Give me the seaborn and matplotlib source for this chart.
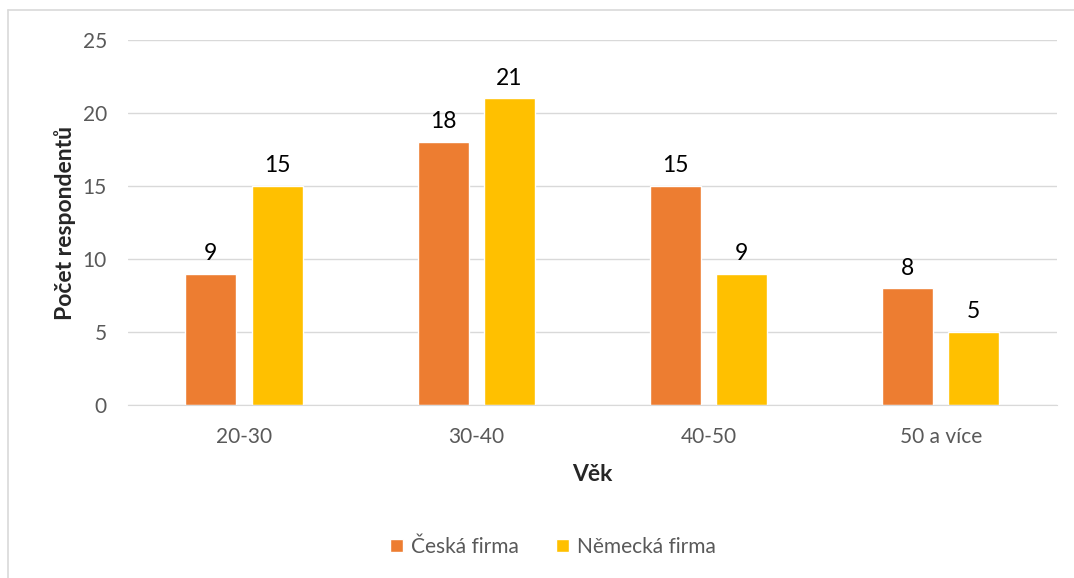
import matplotlib
matplotlib.use("Agg")
import matplotlib.pyplot as plt
import pandas as pd
import seaborn as sns

vek = ["20-30", "30-40", "40-50", "50 a více"]
ceska = [9, 18, 15, 8]
nemecka = [15, 21, 9, 5]
serie = ["Česká firma", "Německá firma"]

df = pd.DataFrame({
    "Věk": vek * 2,
    "Počet": ceska + nemecka,
    "Firma": [serie[0]] * len(vek) + [serie[1]] * len(vek),
})

sns.set_style("white")
plt.rcParams["font.family"] = ["Lato", "DejaVu Sans"]

fig = plt.figure(figsize=(10.74, 5.78), dpi=100)
ax = fig.add_axes([0.119, 0.299, 0.865, 0.632])

sns.barplot(data=df, x="Věk", y="Počet", hue="Firma", hue_order=serie,
            palette=["#ED7D31", "#FFC000"], width=0.57, gap=0.23,
            saturation=1, ax=ax, legend=True)

ax.set_ylim(0, 25)
ax.set_yticks(range(0, 26, 5))
ax.yaxis.grid(True, color="#D9D9D9", linewidth=1)
ax.set_axisbelow(True)
for s in ["top", "right", "left"]:
    ax.spines[s].set_visible(False)
ax.spines["bottom"].set_color("#D9D9D9")
ax.tick_params(axis="both", length=0, labelsize=15, labelcolor="#595959")
ax.tick_params(axis="y", pad=15)
ax.tick_params(axis="x", pad=16)

ax.set_xlabel("Věk", fontsize=16.5, fontweight="bold", labelpad=12)
ax.set_ylabel("Počet respondentů", fontsize=16.5, fontweight="bold", labelpad=5)

for cont in ax.containers:
    ax.bar_label(cont, fontsize=16.5, color="#000000", padding=7)

ax.legend_.remove()
handles, labels = ax.get_legend_handles_labels()
fig.legend(handles, labels, loc="center", bbox_to_anchor=(0.515, 0.054),
           ncol=2, frameon=False, fontsize=15, labelcolor="#595959",
           handlelength=0.6, handleheight=0.6, handletextpad=0.4,
           columnspacing=1.8)

# light frame like the chart area border
fig.add_artist(plt.Line2D([0.0075, 0.0075], [0.0, 0.983], color="#D9D9D9", lw=1.2,
                          transform=fig.transFigure))
fig.add_artist(plt.Line2D([0.0075, 1.0], [0.983, 0.983], color="#D9D9D9", lw=1.2,
                          transform=fig.transFigure))

fig.savefig("out.png", dpi=100)
